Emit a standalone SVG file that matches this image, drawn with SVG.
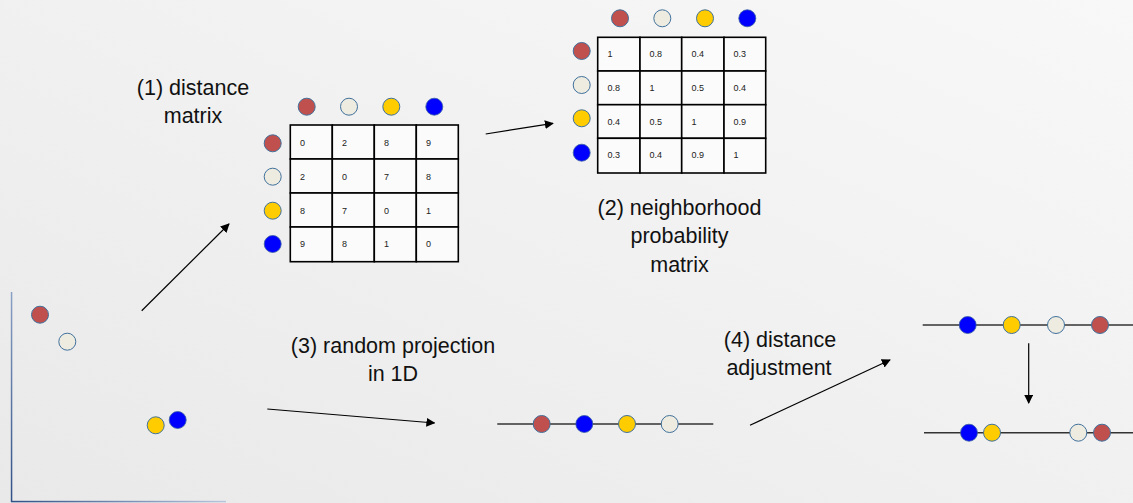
<svg xmlns="http://www.w3.org/2000/svg" width="1133" height="503" viewBox="0 0 1133 503">
<defs>
<linearGradient id="bg" x1="1" y1="0" x2="0" y2="1">
<stop offset="0" stop-color="#f8f8f8"/>
<stop offset="1" stop-color="#e9e9e9"/>
</linearGradient>
<linearGradient id="ax" x1="0" y1="0" x2="1" y2="0">
<stop offset="0" stop-color="#2f4f86"/>
<stop offset="1" stop-color="#b8c6dc"/>
</linearGradient>
<linearGradient id="ay" x1="0" y1="1" x2="0" y2="0">
<stop offset="0" stop-color="#2f4f86"/>
<stop offset="1" stop-color="#8aa0c4"/>
</linearGradient>
<marker id="ah" viewBox="0 0 10 10" refX="9" refY="5" markerWidth="9" markerHeight="9" markerUnits="userSpaceOnUse" orient="auto">
<path d="M0,0 L10,5 L0,10 z" fill="#000"/>
</marker>
</defs>
<style>
.r{fill:#c0504d;stroke:#41719c;stroke-width:1}
.w{fill:#eeece1;stroke:#41719c;stroke-width:1}
.y{fill:#ffcc00;stroke:#41719c;stroke-width:1}
.b{fill:#0000ff;stroke:#3a5fa0;stroke-width:0.8}
.cell{fill:#fbfbfb;stroke:#000;stroke-width:1.6}
.ct{font-family:"Liberation Sans",Arial,sans-serif;font-size:9px;fill:#222}
.lbl{font-family:"Liberation Sans",Arial,sans-serif;font-size:21.5px;fill:#111;text-anchor:middle}
.arr{stroke:#000;stroke-width:1.2;fill:none;marker-end:url(#ah)}
.ln{stroke:#333;stroke-width:1.6}
</style>
<rect width="1133" height="503" fill="url(#bg)"/>

<g id="axes">
<rect x="10.8" y="292" width="1.5" height="210" fill="url(#ay)"/>
<rect x="11" y="500.8" width="215" height="1.5" fill="url(#ax)"/>
<circle class="r" cx="40" cy="314.7" r="8.5"/>
<circle class="w" cx="67.3" cy="341.7" r="8.5"/>
<circle class="y" cx="155.7" cy="425.3" r="8.5"/>
<circle class="b" cx="177.7" cy="420" r="8.5"/>
</g>

<g id="distance-matrix">
<circle class="r" cx="306.7" cy="106.7" r="8.5"/>
<circle class="w" cx="349" cy="106.7" r="8.5"/>
<circle class="y" cx="391.3" cy="106.7" r="8.5"/>
<circle class="b" cx="434.3" cy="106.7" r="8.5"/>
<circle class="r" cx="272.7" cy="143.3" r="8.5"/>
<circle class="w" cx="272.7" cy="176.7" r="8.5"/>
<circle class="y" cx="272.7" cy="210.7" r="8.5"/>
<circle class="b" cx="272.7" cy="244" r="8.5"/>
<rect class="cell" x="290.3" y="125" width="42" height="34"/>
<rect class="cell" x="332.3" y="125" width="42" height="34"/>
<rect class="cell" x="374.3" y="125" width="42" height="34"/>
<rect class="cell" x="416.3" y="125" width="42" height="34"/>
<rect class="cell" x="290.3" y="159" width="42" height="34"/>
<rect class="cell" x="332.3" y="159" width="42" height="34"/>
<rect class="cell" x="374.3" y="159" width="42" height="34"/>
<rect class="cell" x="416.3" y="159" width="42" height="34"/>
<rect class="cell" x="290.3" y="193" width="42" height="34"/>
<rect class="cell" x="332.3" y="193" width="42" height="34"/>
<rect class="cell" x="374.3" y="193" width="42" height="34"/>
<rect class="cell" x="416.3" y="193" width="42" height="34"/>
<rect class="cell" x="290.3" y="227" width="42" height="34.7"/>
<rect class="cell" x="332.3" y="227" width="42" height="34.7"/>
<rect class="cell" x="374.3" y="227" width="42" height="34.7"/>
<rect class="cell" x="416.3" y="227" width="42" height="34.7"/>
<text class="ct" x="300" y="146">0</text><text class="ct" x="342" y="146">2</text><text class="ct" x="384" y="146">8</text><text class="ct" x="426" y="146">9</text>
<text class="ct" x="300" y="180">2</text><text class="ct" x="342" y="180">0</text><text class="ct" x="384" y="180">7</text><text class="ct" x="426" y="180">8</text>
<text class="ct" x="300" y="213.5">8</text><text class="ct" x="342" y="213.5">7</text><text class="ct" x="384" y="213.5">0</text><text class="ct" x="426" y="213.5">1</text>
<text class="ct" x="300" y="247">9</text><text class="ct" x="342" y="247">8</text><text class="ct" x="384" y="247">1</text><text class="ct" x="426" y="247">0</text>
</g>

<g id="probability-matrix">
<circle class="r" cx="620" cy="18.3" r="8.5"/>
<circle class="w" cx="662.3" cy="18.3" r="8.5"/>
<circle class="y" cx="705" cy="18.3" r="8.5"/>
<circle class="b" cx="747.3" cy="18.3" r="8.5"/>
<circle class="r" cx="581.7" cy="51" r="8.5"/>
<circle class="w" cx="581.7" cy="85" r="8.5"/>
<circle class="y" cx="581.7" cy="118.3" r="8.5"/>
<circle class="b" cx="581.7" cy="152.7" r="8.5"/>
<rect class="cell" x="597.7" y="37.3" width="42.3" height="33.7"/>
<rect class="cell" x="640" y="37.3" width="41.7" height="33.7"/>
<rect class="cell" x="681.7" y="37.3" width="42.3" height="33.7"/>
<rect class="cell" x="724" y="37.3" width="41.7" height="33.7"/>
<rect class="cell" x="597.7" y="71" width="42.3" height="33.7"/>
<rect class="cell" x="640" y="71" width="41.7" height="33.7"/>
<rect class="cell" x="681.7" y="71" width="42.3" height="33.7"/>
<rect class="cell" x="724" y="71" width="41.7" height="33.7"/>
<rect class="cell" x="597.7" y="104.7" width="42.3" height="33.6"/>
<rect class="cell" x="640" y="104.7" width="41.7" height="33.6"/>
<rect class="cell" x="681.7" y="104.7" width="42.3" height="33.6"/>
<rect class="cell" x="724" y="104.7" width="41.7" height="33.6"/>
<rect class="cell" x="597.7" y="138.3" width="42.3" height="34.7"/>
<rect class="cell" x="640" y="138.3" width="41.7" height="34.7"/>
<rect class="cell" x="681.7" y="138.3" width="42.3" height="34.7"/>
<rect class="cell" x="724" y="138.3" width="41.7" height="34.7"/>
<text class="ct" x="607.5" y="57">1</text><text class="ct" x="649.5" y="57">0.8</text><text class="ct" x="691.5" y="57">0.4</text><text class="ct" x="733.5" y="57">0.3</text>
<text class="ct" x="607.5" y="91">0.8</text><text class="ct" x="649.5" y="91">1</text><text class="ct" x="691.5" y="91">0.5</text><text class="ct" x="733.5" y="91">0.4</text>
<text class="ct" x="607.5" y="124.5">0.4</text><text class="ct" x="649.5" y="124.5">0.5</text><text class="ct" x="691.5" y="124.5">1</text><text class="ct" x="733.5" y="124.5">0.9</text>
<text class="ct" x="607.5" y="158">0.3</text><text class="ct" x="649.5" y="158">0.4</text><text class="ct" x="691.5" y="158">0.9</text><text class="ct" x="733.5" y="158">1</text>
</g>

<g id="projection-1d">
<line class="ln" x1="497.3" y1="424" x2="713.3" y2="424" stroke="#666"/>
<circle class="r" cx="541.7" cy="424" r="8.5"/>
<circle class="b" cx="584.3" cy="424" r="8.5"/>
<circle class="y" cx="627" cy="424" r="8.5"/>
<circle class="w" cx="669.7" cy="424" r="8.5"/>
</g>

<g id="line-before">
<line class="ln" x1="922.7" y1="325" x2="1133" y2="325"/>
<circle class="b" cx="967.7" cy="325" r="8.5"/>
<circle class="y" cx="1011.7" cy="325" r="8.5"/>
<circle class="w" cx="1056" cy="325" r="8.5"/>
<circle class="r" cx="1100" cy="325" r="8.5"/>
</g>

<g id="line-after">
<line class="ln" x1="924" y1="432.7" x2="1133" y2="432.7"/>
<circle class="b" cx="969" cy="432.7" r="8.5"/>
<circle class="y" cx="992" cy="432.7" r="8.5"/>
<circle class="w" cx="1078.3" cy="432.7" r="8.5"/>
<circle class="r" cx="1102" cy="432.7" r="8.5"/>
</g>

<g id="labels">
<text class="lbl" x="193" y="95">(1) distance</text>
<text class="lbl" x="193" y="122.7">matrix</text>
<text class="lbl" x="679.5" y="215">(2) neighborhood</text>
<text class="lbl" x="679.5" y="243">probability</text>
<text class="lbl" x="679.5" y="271.5">matrix</text>
<text class="lbl" x="393" y="353.3">(3) random projection</text>
<text class="lbl" x="393" y="380.7">in 1D</text>
<text class="lbl" x="780" y="346.7">(4) distance</text>
<text class="lbl" x="779" y="375">adjustment</text>
</g>

<g id="connectors">
<line class="arr" x1="141.7" y1="310.7" x2="229" y2="224"/>
<line class="arr" x1="485.7" y1="134" x2="553" y2="123.3"/>
<line class="arr" x1="267.3" y1="409" x2="434.5" y2="423"/>
<line class="arr" x1="750" y1="425.3" x2="890" y2="360"/>
<line class="arr" x1="1028.7" y1="343.3" x2="1028.7" y2="403"/>
</g>
</svg>
